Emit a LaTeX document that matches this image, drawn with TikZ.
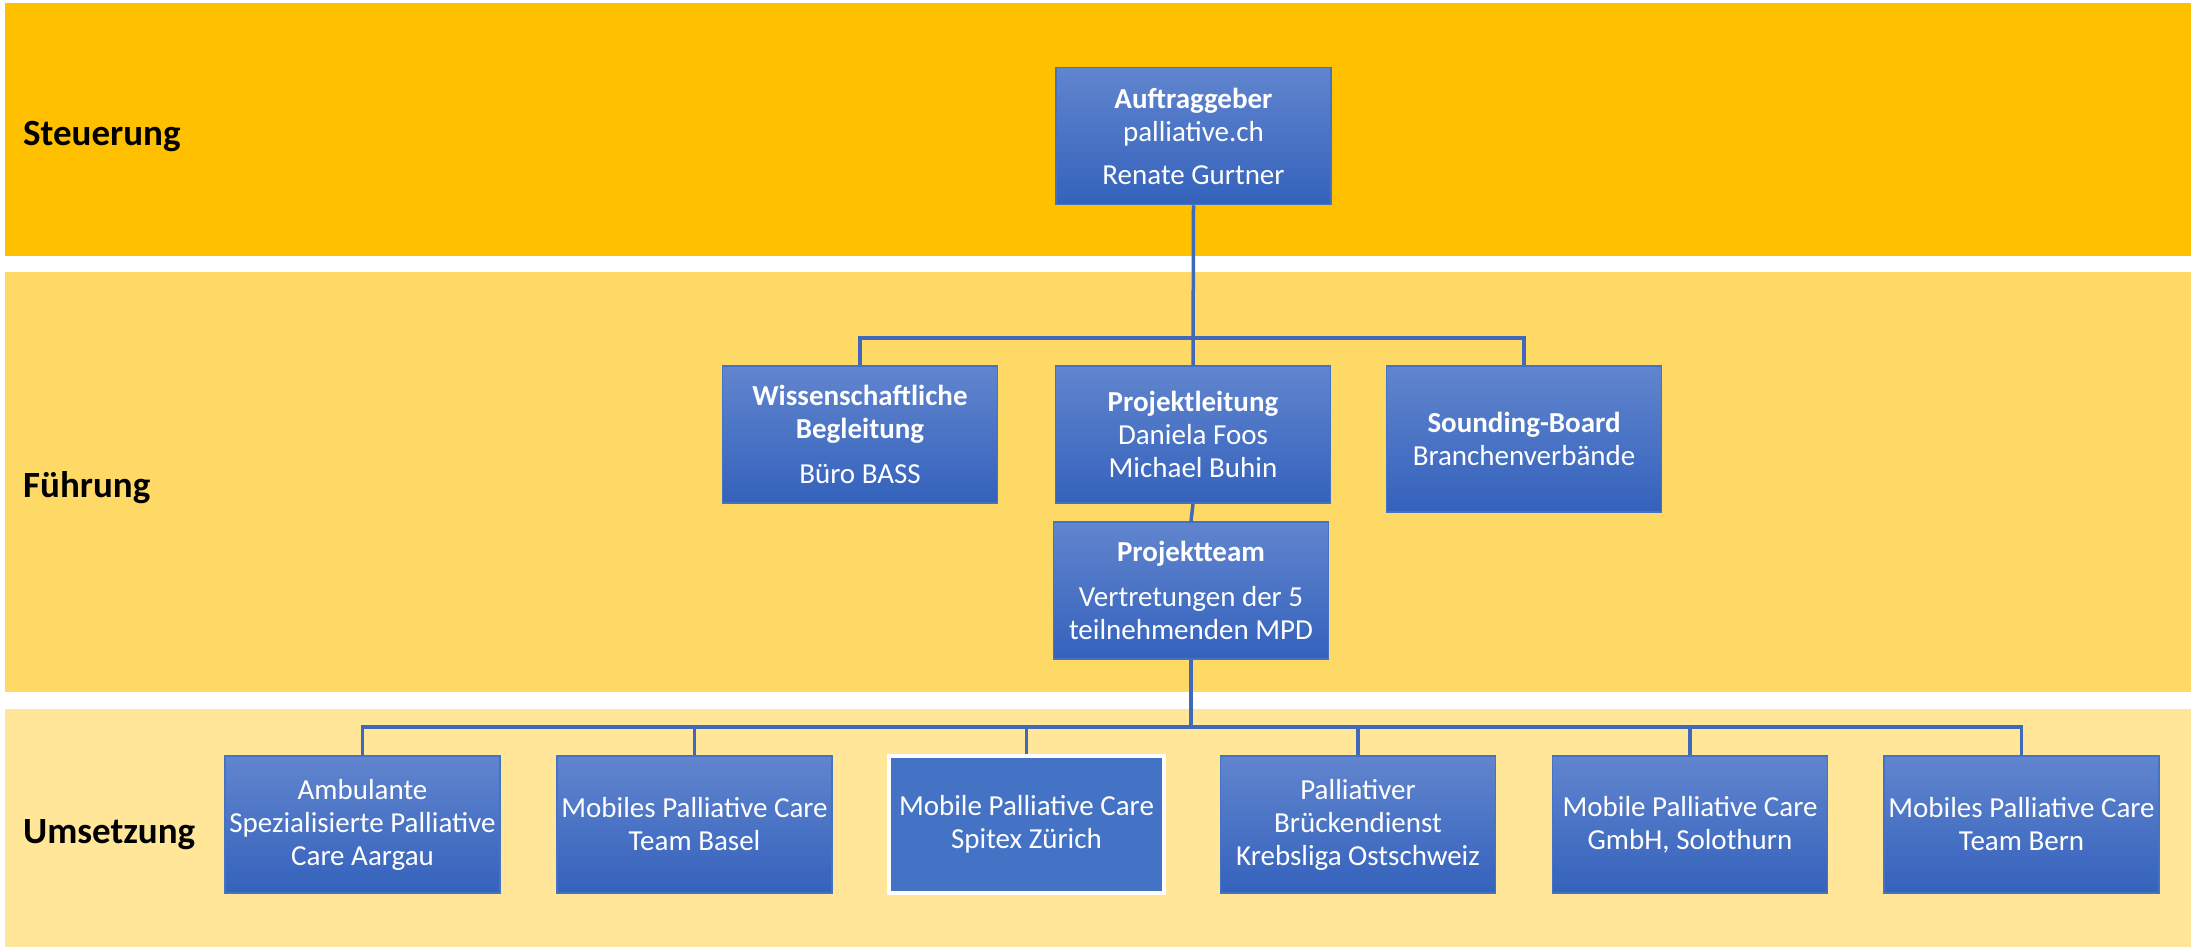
\documentclass[tikz,border=0pt]{standalone}
\usepackage{fontspec}
\setmainfont{Carlito}
\definecolor{bandA}{HTML}{FFC000}
\definecolor{bandB}{HTML}{FFD966}
\definecolor{bandC}{HTML}{FFE699}
\definecolor{boxtop}{HTML}{6185CE}
\definecolor{boxbot}{HTML}{3462BC}
\definecolor{boxline}{HTML}{4472C4}
\definecolor{linkcol}{HTML}{4169B9}
\tikzset{
  orgbox/.style={rectangle, draw=boxline, line width=1.5pt, top color=boxtop, bottom color=boxbot,
    minimum width=275pt, minimum height=137pt, inner sep=0pt, align=center, text=white,
    font=\fontsize{29}{33}\selectfont},
  selbox/.style={rectangle, draw=white, line width=3.5pt, fill=boxline,
    minimum width=275pt, minimum height=137pt, inner sep=0pt, align=center, text=white,
    font=\fontsize{29}{33}\selectfont},
  bandlabel/.style={anchor=base west, inner sep=0pt, font=\fontsize{37}{40}\selectfont\bfseries},
  link/.style={draw=linkcol, line width=3.5pt}
}
\begin{document}
\begin{tikzpicture}[x=1pt,y=-1pt]
\useasboundingbox (0,0) rectangle (2195,947);
\fill[white] (0,0) rectangle (2195,947);
% bands
\fill[bandA] (5,3) rectangle (2191,256);
\fill[bandB] (5,272) rectangle (2191,692);
\fill[bandC] (5,709) rectangle (2191,947);
\node[bandlabel] (lS) at (23,146) {Steuerung};
\node[bandlabel] (lF) at (23,497) {Führung};
\node[bandlabel] (lU) at (23,843) {Umsetzung};
% bus coordinates
\coordinate (b1) at (1193,338);
\coordinate (b2) at (1191,727);
% nodes
\node[orgbox] (auf) at (1193.5,136) {\textbf{Auftraggeber}\\palliative.ch\\[10pt]Renate Gurtner};
\node[orgbox] (wiss) at (860,434.5) {\textbf{Wissenschaftliche}\\\textbf{Begleitung}\\[12pt]Büro BASS};
\node[orgbox] (pl) at (1193,434.5) {\textbf{Projektleitung}\\Daniela Foos\\Michael Buhin};
\node[orgbox, minimum height=146pt] (sb) at (1524,439) {\textbf{Sounding-Board}\\Branchenverbände};
\node[orgbox] (pt) at (1191,590.5) {\textbf{Projektteam}\\[12pt]Vertretungen der 5\\teilnehmenden MPD};
\node[orgbox] (u1) at (362.5,824.5) {Ambulante\\Spezialisierte Palliative\\Care Aargau};
\node[orgbox] (u2) at (694.5,824.5) {Mobiles Palliative Care\\Team Basel};
\node[selbox] (u3) at (1026.5,824.5) {Mobile Palliative Care\\Spitex Zürich};
\node[orgbox] (u4) at (1358,824.5) {Palliativer\\Brückendienst\\Krebsliga Ostschweiz};
\node[orgbox] (u5) at (1690,824.5) {Mobile Palliative Care\\GmbH, Solothurn};
\node[orgbox] (u6) at (2021.5,824.5) {Mobiles Palliative Care\\Team Bern};
% connectors
\draw[link] (auf.south) -- (pl.north);
\draw[link] (wiss.north) |- (b1) -| (sb.north);
\draw[link] (pl.south) -- (pt.north);
\draw[link] (pt.south) -- (b2);
\draw[link] (u1.north) |- (b2) -| (u6.north);
\draw[link] (u2.north) -- (u2.north |- b2);
\draw[link] (u3.north) -- (u3.north |- b2);
\draw[link] (u4.north) -- (u4.north |- b2);
\draw[link] (u5.north) -- (u5.north |- b2);
\end{tikzpicture}
\end{document}
